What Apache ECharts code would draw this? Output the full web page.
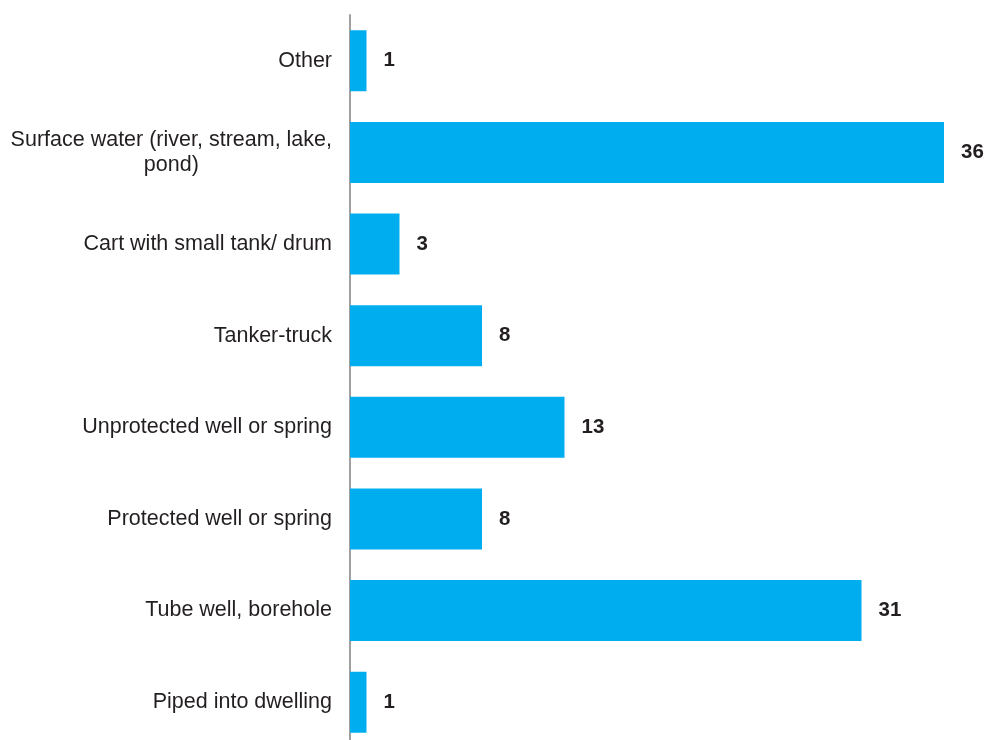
<!DOCTYPE html>
<html>
<head>
<meta charset="utf-8">
<script src="https://cdn.jsdelivr.net/npm/echarts@6/dist/echarts.min.js"></script>
<style>
  html, body { margin: 0; padding: 0; background: #fff; }
  #chart { width: 987px; height: 740px; }
</style>
</head>
<body>
<div id="chart"></div>
<script>
// Main source of drinking water, bottom to top
const categories = [
  'Piped into dwelling',
  'Tube well, borehole',
  'Protected well or spring',
  'Unprotected well or spring',
  'Tanker-truck',
  'Cart with small tank/ drum',
  'Surface water (river, stream, lake,\npond)',
  'Other'
];
const values = [1, 31, 8, 13, 8, 3, 36, 1];

const FONT = "'Liberation Sans', Arial, sans-serif";

const chart = echarts.init(document.getElementById('chart'), null, { renderer: 'canvas' });
chart.setOption({
  animation: false,
  backgroundColor: '#ffffff',
  grid: {
    left: 350, right: 43, top: 15, height: 733,
    containLabel: false,
    outerBoundsMode: 'none'
  },
  xAxis: {
    type: 'value',
    min: 0,
    max: 36,
    show: false
  },
  yAxis: {
    type: 'category',
    data: categories,
    axisLine: { show: true, lineStyle: { color: '#a0a0a0', width: 2 } },
    axisTick: { show: false },
    splitLine: { show: false },
    axisLabel: {
      margin: 18,
      color: '#231f20',
      fontFamily: FONT,
      fontSize: 21.5,
      lineHeight: 25,
      align: 'right',
      // wrapped labels keep their lines centred on each other
      formatter: (v) => v.split('\n').map((s) => '{c|' + s + '}').join('\n'),
      rich: {
        c: {
          align: 'center',
          color: '#231f20',
          fontFamily: FONT,
          fontSize: 21.5,
          lineHeight: 25
        }
      }
    }
  },
  series: [{
    type: 'bar',
    data: values,
    barWidth: 61,
    itemStyle: { color: '#00aeef' },
    label: {
      show: true,
      position: 'right',
      distance: 17,
      color: '#231f20',
      fontFamily: FONT,
      fontWeight: 'bold',
      fontSize: 20.5
    }
  }]
});
</script>
</body>
</html>
